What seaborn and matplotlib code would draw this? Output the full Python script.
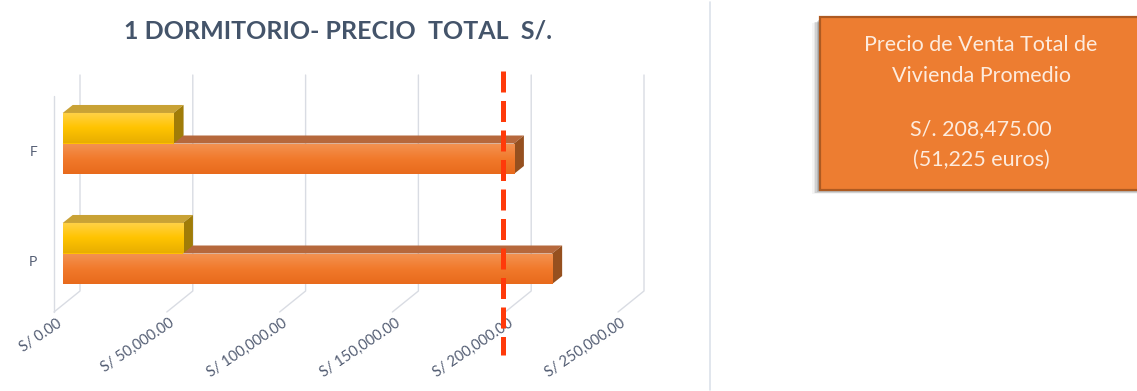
import numpy as np
import pandas as pd
import matplotlib
matplotlib.use("Agg")
import matplotlib.pyplot as plt
import seaborn as sns
from matplotlib.patches import Polygon, Rectangle
from matplotlib.lines import Line2D
from matplotlib.transforms import ScaledTranslation
from matplotlib.colors import LinearSegmentedColormap

# ---- data -------------------------------------------------------------
categorias = ["F", "P"]
precio_soles = [200000, 216950]
precio_euros = [49150, 53300]
ticks_x = [0, 50000, 100000, 150000, 200000, 250000]
etiquetas_x = ["S/ 0.00", "S/ 50,000.00", "S/ 100,000.00",
               "S/ 150,000.00", "S/ 200,000.00", "S/ 250,000.00"]
linea_ref = 195200
titulo = "1 DORMITORIO- PRECIO  TOTAL  S/."
cuadro_lineas = ["Precio de Venta Total de", "Vivienda Promedio",
                 "S/. 208,475.00", "(51,225 euros)"]

sns.set_theme(style="white")
plt.rcParams["font.family"] = ["Lato", "DejaVu Sans"]

W, H, DPI = 1137, 391, 100
fig = plt.figure(figsize=(W / DPI, H / DPI), dpi=DPI)
fig.patch.set_facecolor("white")

# plot box (pixels) and pseudo-3D geometry
AX_L, AX_R, AX_T, AX_B = 40, 660, 60, 320
X0 = 62.7            # pixel of value 0 on the bars' front plane
PX_50K = 112.8       # pixels per 50,000
CAT_Y0, CAT_STEP = 143.5, 110.0
ux = 50000 / PX_50K  # data units per pixel (x)
uy = 1 / CAT_STEP    # data units per pixel (y, downwards)

ax = fig.add_axes([AX_L / W, 1 - AX_B / H, (AX_R - AX_L) / W, (AX_B - AX_T) / H])

df = pd.DataFrame({
    "categoria": categorias * 2,
    "moneda": ["euros"] * len(categorias) + ["soles"] * len(categorias),
    "valor": precio_euros + precio_soles,
})
sns.barplot(data=df, x="valor", y="categoria", hue="moneda",
            hue_order=["euros", "soles"], order=categorias, orient="h",
            width=0.555, gap=0, palette=["#FFC000", "#ED7D31"],
            saturation=1, linewidth=0, legend=False, ax=ax)

xlim = ((AX_L - X0) * ux, (AX_R - X0) * ux)
ylim = ((AX_B - CAT_Y0) * uy, (AX_T - CAT_Y0) * uy)


def pxd(dx_px, dy_px):
    """pixel offset -> data offset"""
    return dx_px * ux, dy_px * uy


# ---- walls / gridlines ------------------------------------------------
grid_c = "#D9DCE3"
BACK_DX, BACK_TOP, BACK_BOT = 17.3, 75, 291
FLOOR_DX, FLOOR_DY = -26, 21
for t in ticks_x:
    bx = t + BACK_DX * ux
    ytop = (BACK_TOP - CAT_Y0) * uy
    ybot = (BACK_BOT - CAT_Y0) * uy
    fx, fy = bx + FLOOR_DX * ux, ybot + FLOOR_DY * uy
    ax.add_line(Line2D([bx, bx, fx], [ytop, ybot, fy], color=grid_c, lw=1.0,
                       zorder=0.5, clip_on=False))
# front edge of the left wall
lx = ticks_x[0] + (BACK_DX + FLOOR_DX) * ux
ax.add_line(Line2D([lx, lx], [(96 - CAT_Y0) * uy, (BACK_BOT + FLOOR_DY - CAT_Y0) * uy],
                   color=grid_c, lw=1.0, zorder=0.5, clip_on=False))

# ---- pseudo-3D bar faces ----------------------------------------------
estilos = [
    dict(top="#C9A235", side="#A07C08", grad=["#FFD24A", "#FFC400", "#E8AE00"], z=3),
    dict(top="#B6683C", side="#96501F", grad=["#F39353", "#F17A2C", "#E86A1C"], z=2),
]
ddx, ddy = pxd(10, -8)
for cont, est in zip(ax.containers, estilos):
    cmap = LinearSegmentedColormap.from_list("g", est["grad"])
    for bar in cont:
        x0, y0 = bar.get_x(), bar.get_y()
        w, h = bar.get_width(), bar.get_height()
        bar.set_zorder(est["z"])
        top = Polygon([(x0, y0), (x0 + w, y0), (x0 + w + ddx, y0 + ddy), (x0 + ddx, y0 + ddy)],
                      closed=True, facecolor=est["top"], edgecolor="none", zorder=est["z"])
        side = Polygon([(x0 + w, y0), (x0 + w + ddx, y0 + ddy), (x0 + w + ddx, y0 + h + ddy),
                        (x0 + w, y0 + h)], closed=True, facecolor=est["side"],
                       edgecolor="none", zorder=est["z"])
        ax.add_patch(top)
        ax.add_patch(side)
        im = ax.imshow(np.linspace(0, 1, 64).reshape(-1, 1), cmap=cmap, aspect="auto",
                       extent=(x0, x0 + w, y0 + h, y0), origin="upper",
                       zorder=est["z"] + 0.1, interpolation="bilinear")
        im.set_clip_path(bar)

# ---- dashed reference line --------------------------------------------
ax.add_line(Line2D([linea_ref, linea_ref], [(71 - CAT_Y0) * uy, (355 - CAT_Y0) * uy],
                   color="#FF3A0A", lw=3.6, dashes=(4.2, 1.7), zorder=6, clip_on=False))

ax.set_xlim(*xlim)
ax.set_ylim(*ylim)
for s in ax.spines.values():
    s.set_visible(False)
ax.set_xlabel("")
ax.set_ylabel("")
ax.grid(False)
ax.set_facecolor("none")

# x tick labels along the front edge of the floor
ax.set_xticks(ticks_x, etiquetas_x)
ax.tick_params(axis="x", length=0, pad=0, colors="#525C72", labelsize=10.5)
off_x = ScaledTranslation((BACK_DX + FLOOR_DX + 6) / DPI, -2 / DPI, fig.dpi_scale_trans)
for lab in ax.get_xticklabels():
    lab.set_rotation(34)
    lab.set_ha("right")
    lab.set_va("center")
    lab.set_rotation_mode("anchor")
    lab.set_transform(lab.get_transform() + off_x)

# category labels
ax.set_yticks(range(len(categorias)), categorias)
ax.tick_params(axis="y", length=0, pad=2, colors="#525C72", labelsize=10)
off_y = ScaledTranslation(0, -8 / DPI, fig.dpi_scale_trans)
for lab in ax.get_yticklabels():
    lab.set_transform(lab.get_transform() + off_y)

# ---- title --------------------------------------------------------------
fig.text(338 / W, 1 - 31 / H, titulo, ha="center", va="center", fontsize=18,
         fontweight="bold", color="#44546A")

# ---- separator ----------------------------------------------------------
fig.add_artist(Line2D([710 / W, 710 / W], [1 - 2 / H, 1 - 390 / H],
                      transform=fig.transFigure, color="#DCE1EA", lw=1.2))

# ---- summary box --------------------------------------------------------
BX_L, BX_T, BX_B = 820, 17, 190
for i, a in enumerate([0.05, 0.08, 0.12, 0.16, 0.2]):
    d = 8 - i * 1.5
    fig.add_artist(Rectangle(((BX_L - d) / W, 1 - (BX_B + d * 0.5) / H),
                             (W + 20 - BX_L) / W, (BX_B - BX_T - 2) / H,
                             transform=fig.transFigure, facecolor="#404040",
                             edgecolor="none", alpha=a))
fig.add_artist(Rectangle((BX_L / W, 1 - BX_B / H), (W + 10 - BX_L) / W, (BX_B - BX_T) / H,
                         transform=fig.transFigure, facecolor="#ED7D31",
                         edgecolor="#AE5A21", lw=1.6))
for txt, yp in zip(cuadro_lineas, [45, 76, 129, 160]):
    fig.text(981 / W, 1 - yp / H, txt, ha="center", va="center", fontsize=15.5,
             color="#FDEBDD", fontweight="normal")

fig.savefig("out.png", dpi=DPI)
